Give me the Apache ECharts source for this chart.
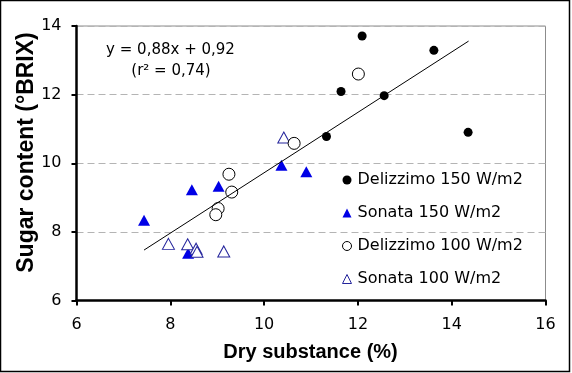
<!DOCTYPE html>
<html>
<head>
<meta charset="utf-8">
<script src="https://cdn.jsdelivr.net/npm/echarts@6/dist/echarts.min.js"></script>
<style>
html,body{margin:0;padding:0;background:#fff;}
#chart{width:572px;height:373px;}
</style>
</head>
<body>
<div id="chart"></div>
<script>
// Data: [dry substance %, sugar content °BRIX]
const delizzimo150 = [[12.09,13.71],[13.62,13.29],[11.64,12.09],[12.56,11.97],[11.33,10.78],[14.35,10.90]];
const sonata150 = [[7.44,8.34],[8.46,9.23],[9.03,9.33],[8.38,7.38],[10.37,9.94],[10.90,9.75]];
const delizzimo100 = [[12.01,12.60],[10.64,10.58],[9.25,9.68],[9.31,9.16],[9.02,8.68],[8.97,8.50]];
const sonata100 = [[7.96,7.65],[8.37,7.64],[8.55,7.51],[8.57,7.42],[9.14,7.43],[10.42,10.75]];
const trendX = [7.44, 14.36];
const trendY = [7.47, 13.56];
const seriesNames = ['Delizzimo 150 W/m2','Sonata 150 W/m2','Delizzimo 100 W/m2','Sonata 100 W/m2'];
const xTicks = {min: 6, max: 16, interval: 2};
const yTicks = {min: 6, max: 14, interval: 2};
const equationText = 'y = 0,88x + 0,92';
const r2Text = '(r\u00B2 = 0,74)';
const xName = 'Dry substance (%)';
const yName = 'Sugar content (\u00B0BRIX)';

const trendData = trendX.map((x, i) => [x, trendY[i]]);
const font = 'DejaVu Sans';
const styles = [
  {color: '#000'},
  {color: '#0000e6'},
  {color: '#fff', borderColor: '#000', borderWidth: 1},
  {color: '#fff', borderColor: '#24249c', borderWidth: 1}
];
const icons = ['circle', 'triangle', 'circle', 'triangle'];
const chart = echarts.init(document.getElementById('chart'), null, {renderer: 'canvas'});
const option = {
  animation: false,
  backgroundColor: '#fff',
  grid: {left: 76.5, top: 26, width: 469, height: 274.5, show: true, borderColor: '#8c8c8c', borderWidth: 1, backgroundColor: 'transparent', containLabel: false, outerBoundsMode: 'none'},
  xAxis: {
    type: 'value', min: xTicks.min, max: xTicks.max, interval: xTicks.interval,
    axisLine: {show: true, onZero: false, lineStyle: {color: '#000', width: 2.5}},
    axisTick: {show: true, length: 5, lineStyle: {color: '#000', width: 2}},
    axisLabel: {color: '#000', fontFamily: font, fontSize: 16, margin: 16},
    splitLine: {show: false}
  },
  yAxis: {
    type: 'value', min: yTicks.min, max: yTicks.max, interval: yTicks.interval,
    axisLine: {show: true, onZero: false, lineStyle: {color: '#000', width: 2.5}},
    axisTick: {show: true, length: 5, lineStyle: {color: '#000', width: 2}},
    axisLabel: {color: '#000', fontFamily: font, fontSize: 16, margin: 15},
    splitLine: {show: true, lineStyle: {color: '#b4b4b4', width: 1, type: [7, 4]}}
  },
  legend: {
    orient: 'vertical', left: 342, top: 172, itemWidth: 9, itemHeight: 9, itemGap: 17,
    padding: 0,
    textStyle: {color: '#000', fontFamily: font, fontSize: 16, lineHeight: 16, padding: [0, 0, 0, 1]},
    data: seriesNames.map((n, i) => ({name: n, icon: icons[i], itemStyle: styles[i]}))
  },
  series: [
    {name: seriesNames[0], type: 'scatter', data: delizzimo150, symbol: 'circle', symbolSize: 9, z: 2,
     itemStyle: Object.assign({opacity: 1}, styles[0])},
    {name: seriesNames[1], type: 'scatter', data: sonata150, symbol: 'triangle', symbolSize: [12, 11], z: 3,
     itemStyle: Object.assign({opacity: 1}, styles[1])},
    {name: seriesNames[2], type: 'scatter', data: delizzimo100, symbol: 'circle', symbolSize: 12, z: 5,
     itemStyle: Object.assign({opacity: 1}, styles[2])},
    {name: seriesNames[3], type: 'scatter', data: sonata100, symbol: 'triangle', symbolSize: [12, 11], z: 4,
     itemStyle: Object.assign({opacity: 1}, styles[3])},
    {name: 'trend', type: 'line', data: trendData, symbol: 'none', z: 6, silent: true,
     lineStyle: {color: '#000', width: 1}}
  ],
  graphic: [
    {type: 'rect', shape: {x: 0.5, y: 0.5, width: 569, height: 371}, style: {fill: 'none', stroke: '#000', lineWidth: 1.5}, silent: true, z: 100},
    {type: 'text', x: 170.5, y: 50, style: {text: equationText, fill: '#000', font: '15px "DejaVu Sans"', align: 'center', verticalAlign: 'middle'}},
    {type: 'text', x: 171, y: 71, style: {text: r2Text, fill: '#000', font: '15px "DejaVu Sans"', align: 'center', verticalAlign: 'middle'}},
    {type: 'text', x: 310.5, y: 352, style: {text: xName, fill: '#000', font: 'bold 20px "Liberation Sans"', align: 'center', verticalAlign: 'middle'}},
    {type: 'text', x: 27, y: 152.5, rotation: Math.PI / 2, style: {text: yName, fill: '#000', font: 'bold 23px "Liberation Sans"', align: 'center', verticalAlign: 'middle'}}
  ]
};
chart.setOption(option);
</script>
</body>
</html>
